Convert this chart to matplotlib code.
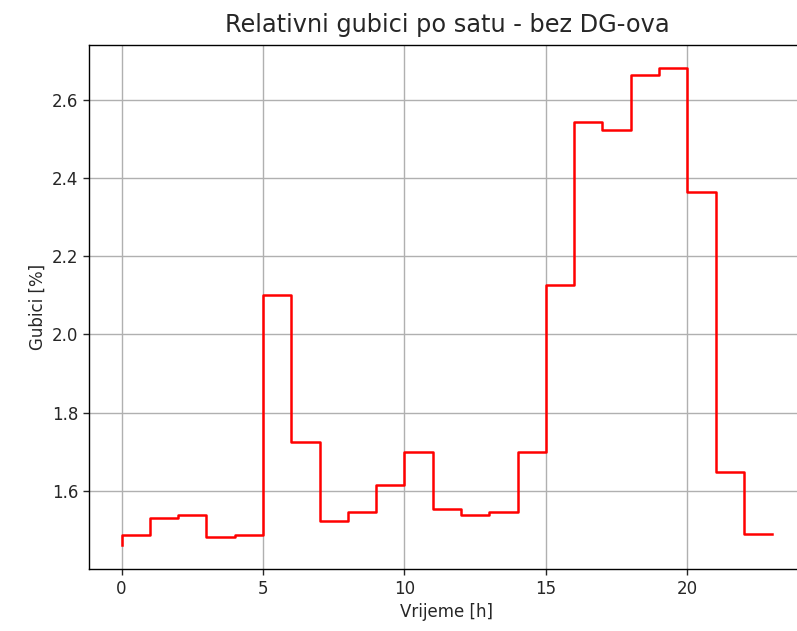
import numpy as np
import matplotlib.pyplot as plt

# hourly relative losses [%]
sati = np.arange(0, 24)
gubici = [1.461, 1.487, 1.531, 1.538, 1.483, 1.487, 2.101, 1.726,
          1.522, 1.545, 1.614, 1.698, 1.553, 1.537, 1.545, 1.699,
          2.125, 2.544, 2.522, 2.664, 2.680, 2.363, 1.648, 1.489]

plt.rcParams['font.size'] = 12
plt.rcParams['text.color'] = '#262626'
plt.rcParams['axes.labelcolor'] = '#262626'
plt.rcParams['xtick.color'] = '#262626'
plt.rcParams['ytick.color'] = '#262626'
plt.rcParams['axes.linewidth'] = 1.0
plt.rcParams['xtick.major.width'] = 1.0
plt.rcParams['ytick.major.width'] = 1.0
plt.rcParams['xtick.major.size'] = 4.2
plt.rcParams['ytick.major.size'] = 4.2

fig = plt.figure(figsize=(7.97, 6.31), dpi=100)
ax = fig.add_axes([0.1117, 0.0983, 0.898, 0.831])

ax.step(sati, gubici, where='pre', color='red', linewidth=1.8)
ax.set_xlabel("Vrijeme [h]")
ax.set_ylabel("Gubici [%]")
ax.set_title("Relativni gubici po satu - bez DG-ova", fontsize='x-large', pad=9)
ax.grid(True, color='#b0b0b0', linewidth=1.0)

fig.savefig("out.png", dpi=100)
